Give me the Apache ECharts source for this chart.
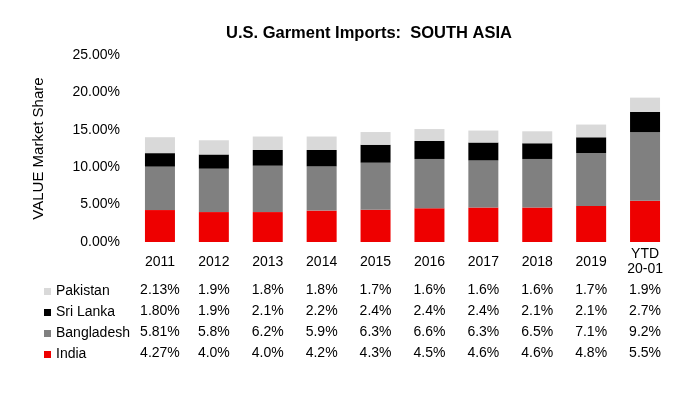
<!DOCTYPE html>
<html><head><meta charset="utf-8">
<script src="https://cdn.jsdelivr.net/npm/echarts@6/dist/echarts.min.js"></script>
<style>html,body{margin:0;padding:0;background:#fff}#c{width:700px;height:400px}</style>
</head><body><div id="c"></div>
<script>
var categories = ['2011','2012','2013','2014','2015','2016','2017','2018','2019','YTD\n20-01'];
var pakistan   = [2.13, 1.9, 1.8, 1.8, 1.7, 1.6, 1.6, 1.6, 1.7, 1.9];
var sriLanka   = [1.80, 1.9, 2.1, 2.2, 2.4, 2.4, 2.4, 2.1, 2.1, 2.7];
var bangladesh = [5.81, 5.8, 6.2, 5.9, 6.3, 6.6, 6.3, 6.5, 7.1, 9.2];
var india      = [4.27, 4.0, 4.0, 4.2, 4.3, 4.5, 4.6, 4.6, 4.8, 5.5];
var decimals   = [2, 1, 1, 1, 1, 1, 1, 1, 1, 1];
var yTicks = {min: 0, max: 25, interval: 5};

var FONT = 'Liberation Sans, Arial, sans-serif';
var colors = {Pakistan: '#d9d9d9', 'Sri Lanka': '#000000', Bangladesh: '#808080', India: '#ee0000'};
var rows = [['Pakistan', pakistan], ['Sri Lanka', sriLanka], ['Bangladesh', bangladesh], ['India', india]];
var rowOffsets = [48, 69, 90, 111];

var xAxes = [{
  type: 'category', data: categories, gridIndex: 0,
  axisLine: {show: false}, axisTick: {show: false},
  axisLabel: {color: '#000', fontSize: 14, fontFamily: FONT, margin: 20, verticalAlign: 'middle', lineHeight: 15, interval: 0}
}];
rows.forEach(function (r, i) {
  xAxes.push({
    type: 'category', data: categories, gridIndex: 0, position: 'bottom', offset: rowOffsets[i],
    axisLine: {show: false}, axisTick: {show: false}, splitLine: {show: false},
    axisLabel: {color: '#000', fontSize: 14, fontFamily: FONT, margin: 0, verticalAlign: 'middle', interval: 0,
      formatter: function (v, idx) { return r[1][idx].toFixed(decimals[idx]) + '%'; }}
  });
});

var stackOrder = [['India', india], ['Bangladesh', bangladesh], ['Sri Lanka', sriLanka], ['Pakistan', pakistan]];
var series = stackOrder.map(function (s) {
  return {name: s[0], type: 'bar', stack: 'all', barWidth: 30, data: s[1], xAxisIndex: 0,
    itemStyle: {color: colors[s[0]]}};
});

var chart = echarts.init(document.getElementById('c'), null, {renderer: 'canvas'});
chart.setOption({
  animation: false,
  title: {text: 'U.S. Garment Imports:  SOUTH ASIA', left: 364, textAlign: 'center', top: 20,
    textStyle: {fontSize: 16.5, fontWeight: 'bold', color: '#000', fontFamily: FONT}},
  grid: {left: 133, right: 28, top: 55, bottom: 158},
  legend: {orient: 'vertical', left: 39, top: 276, itemWidth: 7, itemHeight: 7, itemGap: 0, icon: 'rect',
    data: ['Pakistan', 'Sri Lanka', 'Bangladesh', 'India'], selectedMode: false,
    textStyle: {fontSize: 14, color: '#000', fontFamily: FONT, lineHeight: 21, padding: [0, 0, 0, 0]}},
  xAxis: xAxes,
  yAxis: {type: 'value', min: yTicks.min, max: yTicks.max, interval: yTicks.interval,
    name: 'VALUE Market Share', nameLocation: 'middle', nameGap: 87, nameRotate: 90,
    nameTextStyle: {fontSize: 15, color: '#000', fontFamily: FONT},
    axisLine: {show: false}, axisTick: {show: false}, splitLine: {show: false},
    axisLabel: {color: '#000', fontSize: 14, fontFamily: FONT, margin: 13,
      formatter: function (v) { return v.toFixed(2) + '%'; }}},
  series: series
});
</script></body></html>
